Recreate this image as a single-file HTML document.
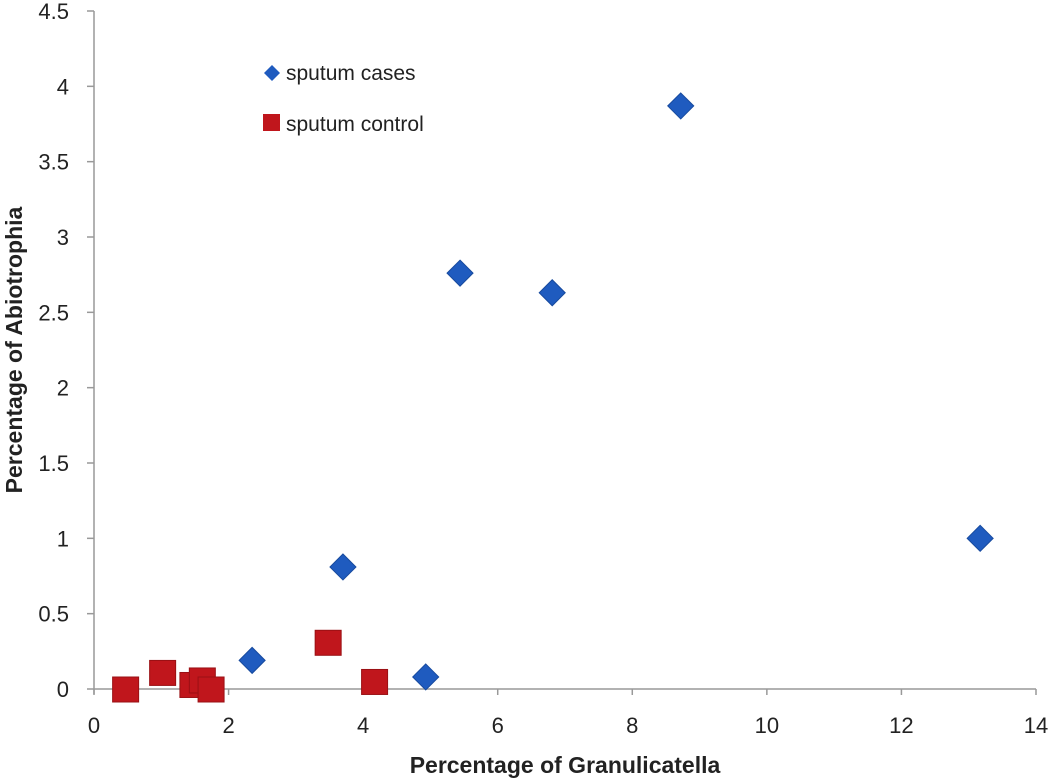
<!DOCTYPE html>
<html><head><meta charset="utf-8"><style>
body{margin:0;background:#fff;}
svg{display:block;font-family:"Liberation Sans",sans-serif;}
</style></head><body>
<svg id="chart" width="1050" height="781"></svg>
<script>
const xTicks=[0,2,4,6,8,10,12,14];
const yTicks=[0,0.5,1,1.5,2,2.5,3,3.5,4,4.5];
const yTickLabels=["0","0.5","1","1.5","2","2.5","3","3.5","4","4.5"];
const casesX=[2.35,4.93,3.70,5.44,6.81,8.72,13.17];
const casesY=[0.19,0.08,0.81,2.76,2.63,3.87,1.00];
const controlX=[0.47,1.02,1.47,1.61,1.74,3.48,4.17];
const controlY=[0.00,0.11,0.03,0.06,0.00,0.31,0.05];

const NS="http://www.w3.org/2000/svg";
const svg=document.getElementById('chart');
const x0=94,x1=1036,y0=689,y1=11;
const sx=v=>x0+(v-0)/(14-0)*(x1-x0);
const sy=v=>y0-(v-0)/(4.5-0)*(y0-y1);
function mk(t,a){const e=document.createElementNS(NS,t);for(const k in a)e.setAttribute(k,a[k]);svg.appendChild(e);return e;}

let ax=mk('line',{x1:x0,y1:y1,x2:x0,y2:y0+5,stroke:'#999','stroke-width':1.5});


let bx=mk('line',{x1:x0,y1:y0,x2:x1,y2:y0,stroke:'#999','stroke-width':1.5});



xTicks.forEach(v=>{
  mk('line',{x1:sx(v),y1:y0,x2:sx(v),y2:y0+6,stroke:'#999','stroke-width':1.5});
  const t=mk('text',{x:sx(v),y:y0+44,'text-anchor':'middle','font-size':22,fill:'#222'});
  t.textContent=v;
  
  
});
yTicks.forEach((v,i)=>{
  mk('line',{x1:x0-7,y1:sy(v),x2:x0,y2:sy(v),stroke:'#999','stroke-width':1.5});
  const t=mk('text',{x:x0-25,y:sy(v)+8,'text-anchor':'end','font-size':22,fill:'#222'});
  t.textContent=yTickLabels[i];
  
  
});

const xt=mk('text',{x:565,y:773,'text-anchor':'middle','font-size':23,'font-weight':'bold',fill:'#222'});
xt.textContent='Percentage of Granulicatella';


const yt=mk('text',{x:0,y:0,'text-anchor':'middle','font-size':23,'font-weight':'bold',fill:'#222',transform:'translate(22,350) rotate(-90)'});
yt.textContent='Percentage of Abiotrophia';



function diamond(cx,cy,r){return `${cx},${cy-r} ${cx+r},${cy} ${cx},${cy+r} ${cx-r},${cy}`;}
controlX.forEach((v,i)=>{
  const r=mk('rect',{x:sx(v)-13,y:sy(controlY[i])-12,width:26,height:25,fill:'#c0161c',stroke:'#9a1014','stroke-width':1});
  
  
});
casesX.forEach((v,i)=>{
  const p=mk('polygon',{points:diamond(sx(v),sy(casesY[i]),13),fill:'#1f5bbf',stroke:'#174a9e','stroke-width':1});
  
  
});

const g1=mk('polygon',{points:diamond(272,73,8),fill:'#1f5bbf'});


const l1=mk('text',{x:286,y:80,'font-size':21,fill:'#222'});
l1.textContent='sputum cases';


const g2=mk('rect',{x:263,y:114,width:17,height:17,fill:'#c0161c'});


const l2=mk('text',{x:286,y:131,'font-size':21,fill:'#222'});
l2.textContent='sputum control';


</script>
</body></html>
